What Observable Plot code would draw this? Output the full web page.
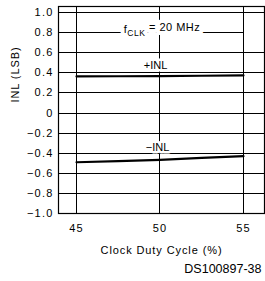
<!DOCTYPE html>
<html>
<head>
<meta charset="utf-8">
<script src="https://cdn.jsdelivr.net/npm/d3@7"></script>
<script src="https://cdn.jsdelivr.net/npm/@observablehq/plot@0.6"></script>
<style>
  html, body { margin: 0; padding: 0; background: white; }
  svg { display: block; }
</style>
</head>
<body>
<div id="chart"></div>
<script>
// Data
const dutyCycle = [45, 47.5, 50, 52.5, 55];
const inlPos = [0.364, 0.366, 0.368, 0.371, 0.374];
const inlNeg = [-0.49, -0.478, -0.466, -0.447, -0.43];

const xTicks = [45, 50, 55];
const yTicks = [-1.0, -0.8, -0.6, -0.4, -0.2, 0, 0.2, 0.4, 0.6, 0.8, 1.0];
const xDomain = [43.92, 56.26];
const yDomain = [-1.0, 1.06];

const seriesLabels = [
  {x: 49.73, y: 0.47, text: "+INL"},
  {x: 49.85, y: -0.345, text: "\u2212INL"}
];
const condition = [{x: 50.12, y: 0.835, text: "fCLK = 20 MHz"}];
const xLabel = "Clock Duty Cycle (%)";
const yLabel = "INL (LSB)";
const figureId = "DS100897-38";

const pos = dutyCycle.map((d, i) => ({x: d, y: inlPos[i]}));
const neg = dutyCycle.map((d, i) => ({x: d, y: inlNeg[i]}));

const fmtY = d => d === 0 ? "0" : (d < 0 ? "\u2212" : "") + Math.abs(d).toFixed(1);

const plot = Plot.plot({
  width: 265,
  height: 281,
  marginLeft: 58,
  marginRight: 1,
  marginTop: 6,
  marginBottom: 68,
  style: {fontFamily: "'Liberation Sans', Arial, sans-serif", fontSize: "11px", background: "white", color: "black"},
  x: {domain: xDomain, ticks: xTicks},
  y: {domain: yDomain, ticks: yTicks},
  marks: [
    Plot.ruleY(yTicks, {y: d => d, x1: () => xDomain[0], x2: d => d === 0.8 ? 55 : xDomain[1], stroke: "black", strokeWidth: 1, shapeRendering: "crispEdges"}),
    Plot.ruleX(xTicks, {x: d => d, stroke: "black", strokeWidth: 1, shapeRendering: "crispEdges"}),
    Plot.frame({stroke: "black", strokeWidth: 1.2}),
    Plot.line(pos, {x: "x", y: "y", stroke: "black", strokeWidth: 2.2}),
    Plot.line(neg, {x: "x", y: "y", stroke: "black", strokeWidth: 2.2}),
    Plot.text(seriesLabels, {x: "x", y: "y", text: "text", fontSize: 11, stroke: "white", strokeWidth: 5, fill: "black", style: "letter-spacing:0.8px"}),
    // halo for the condition label, then the label itself
    Plot.text(condition, {x: "x", y: "y", text: "text", fontSize: 11, stroke: "white", strokeWidth: 8, fill: "white"}),
    Plot.text(condition, {x: "x", y: "y", text: "text", fontSize: 11, fill: "black"}),
    Plot.axisX(xTicks, {tickSize: 0, tickPadding: 11, tickFormat: d => String(d), label: null, fontSize: 11}),
    Plot.axisY(yTicks, {tickSize: 0, tickPadding: 5, tickFormat: fmtY, label: null, fontSize: 11}),
    Plot.text([xLabel], {frameAnchor: "bottom", dy: 37, text: d => d, fontSize: 11, lineAnchor: "middle"}),
    Plot.text([yLabel], {frameAnchor: "left", dx: -43, dy: -7.5, rotate: -90, text: d => d, fontSize: 11, lineAnchor: "middle"}),
    Plot.text([figureId], {frameAnchor: "bottom-right", dx: -3, dy: 55, text: d => d, fontSize: 12.5, textAnchor: "end", lineAnchor: "middle"})
  ]
});

// letter spacing to match the reference's spaced lettering
d3.select(plot).selectAll("g[aria-label='x-axis tick label'] text, g[aria-label='y-axis tick label'] text").style("letter-spacing", "1.2px");
d3.select(plot).selectAll("text").filter(function() { return this.textContent === xLabel || this.textContent === yLabel; }).style("letter-spacing", "0.9px");
// subscript CLK
d3.select(plot).selectAll("text").filter(function() { return this.textContent === "fCLK = 20 MHz"; })
  .each(function() {
    const t = d3.select(this);
    t.text(null).style("letter-spacing", "0.5px");
    t.append("tspan").text("f");
    t.append("tspan").attr("font-size", 8.5).attr("dy", "0.35em").text("CLK");
    t.append("tspan").attr("dy", "-0.4em").text(" = 20 MHz");
  });

document.getElementById("chart").append(plot);
</script>
</body>
</html>
